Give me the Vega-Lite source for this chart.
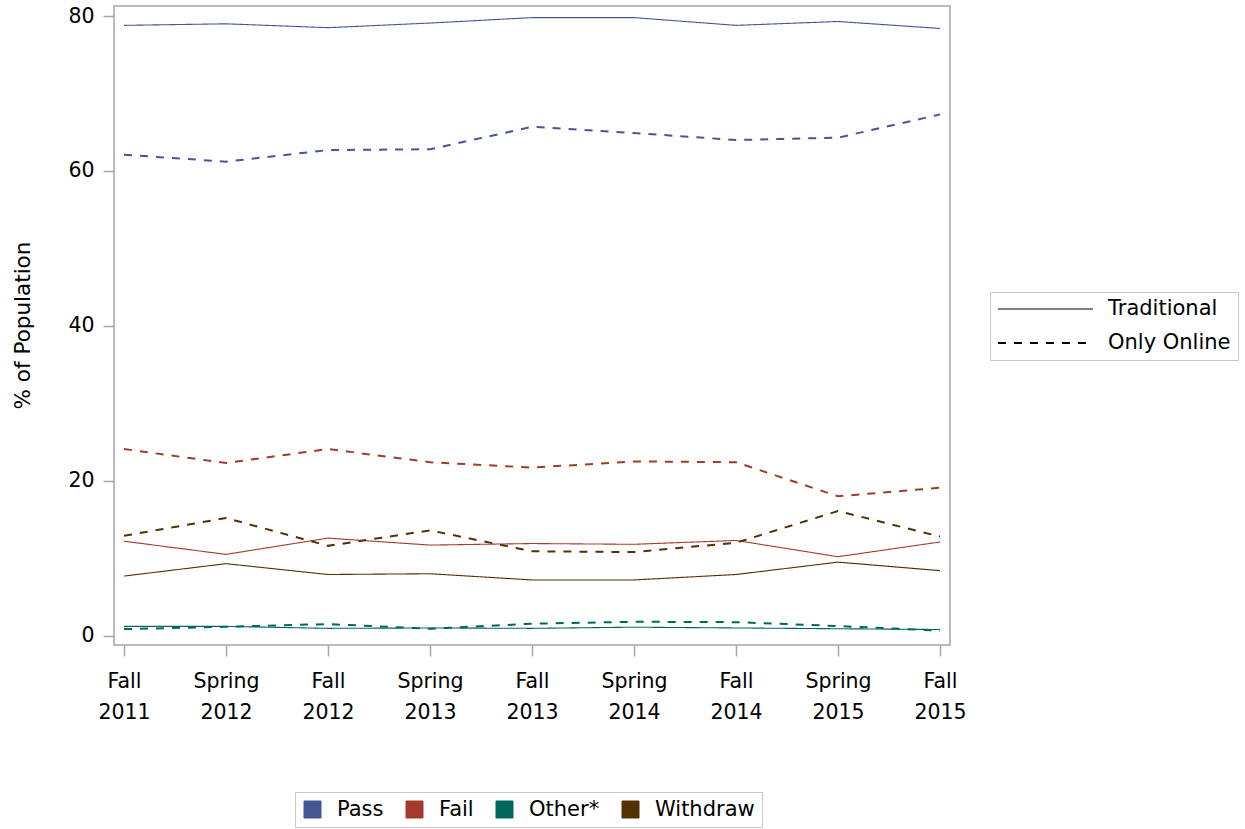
{
  "$schema": "https://vega.github.io/schema/vega-lite/v6.json",
  "width": 836,
  "height": 639,
  "autosize": {"type": "none"},
  "padding": {"left": 114, "top": 6, "right": 295, "bottom": 184},
  "background": "white",
  "config": {
    "font": "DejaVu Sans",
    "view": {"stroke": "#A3A6AA", "strokeWidth": 1.5},
    "axis": {"labelColor": "black", "titleColor": "black", "grid": false}
  },
  "data": {
    "values": [
      {"term": "Fall 2011", "status": "Pass", "mode": "Traditional", "pct": 78.8},
      {"term": "Spring 2012", "status": "Pass", "mode": "Traditional", "pct": 79.0},
      {"term": "Fall 2012", "status": "Pass", "mode": "Traditional", "pct": 78.5},
      {"term": "Spring 2013", "status": "Pass", "mode": "Traditional", "pct": 79.1},
      {"term": "Fall 2013", "status": "Pass", "mode": "Traditional", "pct": 79.8},
      {"term": "Spring 2014", "status": "Pass", "mode": "Traditional", "pct": 79.8},
      {"term": "Fall 2014", "status": "Pass", "mode": "Traditional", "pct": 78.8},
      {"term": "Spring 2015", "status": "Pass", "mode": "Traditional", "pct": 79.3},
      {"term": "Fall 2015", "status": "Pass", "mode": "Traditional", "pct": 78.4},
      {"term": "Fall 2011", "status": "Pass", "mode": "Only Online", "pct": 62.1},
      {"term": "Spring 2012", "status": "Pass", "mode": "Only Online", "pct": 61.2},
      {"term": "Fall 2012", "status": "Pass", "mode": "Only Online", "pct": 62.7},
      {"term": "Spring 2013", "status": "Pass", "mode": "Only Online", "pct": 62.8},
      {"term": "Fall 2013", "status": "Pass", "mode": "Only Online", "pct": 65.7},
      {"term": "Spring 2014", "status": "Pass", "mode": "Only Online", "pct": 64.9},
      {"term": "Fall 2014", "status": "Pass", "mode": "Only Online", "pct": 64.0},
      {"term": "Spring 2015", "status": "Pass", "mode": "Only Online", "pct": 64.3},
      {"term": "Fall 2015", "status": "Pass", "mode": "Only Online", "pct": 67.3},
      {"term": "Fall 2011", "status": "Fail", "mode": "Traditional", "pct": 12.2},
      {"term": "Spring 2012", "status": "Fail", "mode": "Traditional", "pct": 10.5},
      {"term": "Fall 2012", "status": "Fail", "mode": "Traditional", "pct": 12.6},
      {"term": "Spring 2013", "status": "Fail", "mode": "Traditional", "pct": 11.7},
      {"term": "Fall 2013", "status": "Fail", "mode": "Traditional", "pct": 11.9},
      {"term": "Spring 2014", "status": "Fail", "mode": "Traditional", "pct": 11.8},
      {"term": "Fall 2014", "status": "Fail", "mode": "Traditional", "pct": 12.3},
      {"term": "Spring 2015", "status": "Fail", "mode": "Traditional", "pct": 10.2},
      {"term": "Fall 2015", "status": "Fail", "mode": "Traditional", "pct": 12.1},
      {"term": "Fall 2011", "status": "Fail", "mode": "Only Online", "pct": 24.1},
      {"term": "Spring 2012", "status": "Fail", "mode": "Only Online", "pct": 22.3},
      {"term": "Fall 2012", "status": "Fail", "mode": "Only Online", "pct": 24.1},
      {"term": "Spring 2013", "status": "Fail", "mode": "Only Online", "pct": 22.4},
      {"term": "Fall 2013", "status": "Fail", "mode": "Only Online", "pct": 21.7},
      {"term": "Spring 2014", "status": "Fail", "mode": "Only Online", "pct": 22.5},
      {"term": "Fall 2014", "status": "Fail", "mode": "Only Online", "pct": 22.4},
      {"term": "Spring 2015", "status": "Fail", "mode": "Only Online", "pct": 18.0},
      {"term": "Fall 2015", "status": "Fail", "mode": "Only Online", "pct": 19.1},
      {"term": "Fall 2011", "status": "Other*", "mode": "Traditional", "pct": 1.2},
      {"term": "Spring 2012", "status": "Other*", "mode": "Traditional", "pct": 1.2},
      {"term": "Fall 2012", "status": "Other*", "mode": "Traditional", "pct": 0.95},
      {"term": "Spring 2013", "status": "Other*", "mode": "Traditional", "pct": 1.0},
      {"term": "Fall 2013", "status": "Other*", "mode": "Traditional", "pct": 0.95},
      {"term": "Spring 2014", "status": "Other*", "mode": "Traditional", "pct": 1.1},
      {"term": "Fall 2014", "status": "Other*", "mode": "Traditional", "pct": 1.0},
      {"term": "Spring 2015", "status": "Other*", "mode": "Traditional", "pct": 0.9},
      {"term": "Fall 2015", "status": "Other*", "mode": "Traditional", "pct": 0.8},
      {"term": "Fall 2011", "status": "Other*", "mode": "Only Online", "pct": 0.85},
      {"term": "Spring 2012", "status": "Other*", "mode": "Only Online", "pct": 1.15},
      {"term": "Fall 2012", "status": "Other*", "mode": "Only Online", "pct": 1.5},
      {"term": "Spring 2013", "status": "Other*", "mode": "Only Online", "pct": 0.9},
      {"term": "Fall 2013", "status": "Other*", "mode": "Only Online", "pct": 1.55},
      {"term": "Spring 2014", "status": "Other*", "mode": "Only Online", "pct": 1.8},
      {"term": "Fall 2014", "status": "Other*", "mode": "Only Online", "pct": 1.75},
      {"term": "Spring 2015", "status": "Other*", "mode": "Only Online", "pct": 1.25},
      {"term": "Fall 2015", "status": "Other*", "mode": "Only Online", "pct": 0.65},
      {"term": "Fall 2011", "status": "Withdraw", "mode": "Traditional", "pct": 7.7},
      {"term": "Spring 2012", "status": "Withdraw", "mode": "Traditional", "pct": 9.3},
      {"term": "Fall 2012", "status": "Withdraw", "mode": "Traditional", "pct": 7.9},
      {"term": "Spring 2013", "status": "Withdraw", "mode": "Traditional", "pct": 8.0},
      {"term": "Fall 2013", "status": "Withdraw", "mode": "Traditional", "pct": 7.2},
      {"term": "Spring 2014", "status": "Withdraw", "mode": "Traditional", "pct": 7.2},
      {"term": "Fall 2014", "status": "Withdraw", "mode": "Traditional", "pct": 7.9},
      {"term": "Spring 2015", "status": "Withdraw", "mode": "Traditional", "pct": 9.5},
      {"term": "Fall 2015", "status": "Withdraw", "mode": "Traditional", "pct": 8.4},
      {"term": "Fall 2011", "status": "Withdraw", "mode": "Only Online", "pct": 12.9},
      {"term": "Spring 2012", "status": "Withdraw", "mode": "Only Online", "pct": 15.2},
      {"term": "Fall 2012", "status": "Withdraw", "mode": "Only Online", "pct": 11.6},
      {"term": "Spring 2013", "status": "Withdraw", "mode": "Only Online", "pct": 13.6},
      {"term": "Fall 2013", "status": "Withdraw", "mode": "Only Online", "pct": 10.9},
      {"term": "Spring 2014", "status": "Withdraw", "mode": "Only Online", "pct": 10.8},
      {"term": "Fall 2014", "status": "Withdraw", "mode": "Only Online", "pct": 12.0},
      {"term": "Spring 2015", "status": "Withdraw", "mode": "Only Online", "pct": 16.1},
      {"term": "Fall 2015", "status": "Withdraw", "mode": "Only Online", "pct": 12.8}
    ]
  },
  "mark": {"type": "line", "interpolate": "linear"},
  "encoding": {
    "x": {
      "field": "term",
      "type": "ordinal",
      "sort": ["Fall 2011", "Spring 2012", "Fall 2012", "Spring 2013", "Fall 2013", "Spring 2014", "Fall 2014", "Spring 2015", "Fall 2015"],
      "scale": {"type": "point", "padding": 0.098},
      "axis": {
        "title": null,
        "domain": false,
        "ticks": true,
        "tickColor": "#A3A6AA",
        "tickWidth": 1.5,
        "tickSize": 11,
        "labelAngle": 0,
        "labelFontSize": 20.5,
        "labelBaseline": "top",
        "labelLineHeight": 31,
        "labelPadding": 15,
        "labelExpr": "split(datum.label, ' ')"
      }
    },
    "y": {
      "field": "pct",
      "type": "quantitative",
      "scale": {"domain": [-1.2, 81.3], "nice": false, "zero": false},
      "axis": {
        "title": "% of Population",
        "values": [0, 20, 40, 60, 80],
        "domain": false,
        "tickColor": "#A3A6AA",
        "tickWidth": 1.5,
        "tickSize": 11,
        "labelFontSize": 20.5,
        "labelPadding": 9,
        "titleFontSize": 21.5,
        "titleFontWeight": "normal",
        "titleAngle": -90,
        "titleAlign": "center",
        "titleBaseline": "middle",
        "titleX": -91,
        "titleY": 319
      }
    },
    "color": {
      "field": "status",
      "type": "nominal",
      "scale": {"domain": ["Pass", "Fail", "Other*", "Withdraw"], "range": ["#445694", "#A23A2E", "#01665E", "#543005"]},
      "legend": {
        "title": null,
        "orient": "none",
        "direction": "horizontal",
        "legendX": 181,
        "legendY": 786,
        "symbolType": "square",
        "symbolSize": 289,
        "symbolStrokeColor": "black",
        "symbolStrokeWidth": 1,
        "labelFontSize": 21,
        "labelColor": "black",
        "labelOffset": 14,
        "columnPadding": 20,
        "padding": 7,
        "strokeColor": "#C8C8C8",
        "fillColor": "white",
        "encode": {
          "symbols": {
            "update": {
              "fill": {"scale": "color", "field": "value"},
              "stroke": {"value": "black"},
              "strokeWidth": {"value": 1},
              "opacity": {"value": 1},
              "fillOpacity": {"value": 1}
            }
          }
        }
      }
    },
    "strokeDash": {
      "field": "mode",
      "type": "nominal",
      "scale": {"domain": ["Traditional", "Only Online"], "range": [[1, 0], [8, 8]]},
      "legend": {
        "title": null,
        "orient": "none",
        "legendX": 876,
        "legendY": 286,
        "symbolType": "stroke",
        "symbolSize": 9025,
        "symbolStrokeColor": "black",
        "symbolStrokeWidth": 1.8,
        "clipHeight": 20,
        "rowPadding": 13,
        "labelFontSize": 21,
        "labelColor": "black",
        "labelOffset": 14,
        "padding": 7,
        "strokeColor": "#C8C8C8",
        "fillColor": "white",
        "encode": {
          "symbols": {
            "update": {
              "stroke": {"value": "black"},
              "strokeWidth": {"value": 1.8},
              "opacity": {"value": 1}
            }
          }
        }
      }
    },
    "strokeWidth": {
      "field": "mode",
      "type": "ordinal",
      "scale": {"domain": ["Traditional", "Only Online"], "range": [1.1, 2]},
      "legend": null
    }
  }
}
